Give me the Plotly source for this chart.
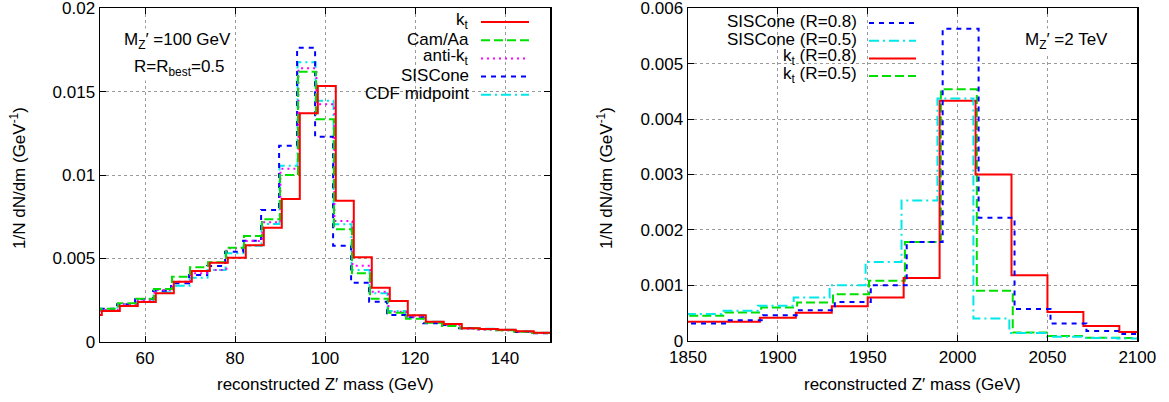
import plotly.graph_objects as go

# ---------------- data ----------------
# Left panel: M_Z' = 100 GeV, 4 GeV bins (left edges)
left_edges = [46.4, 50.4, 54.4, 58.4, 62.4, 66.4, 70.4, 74.4, 78.4, 82.4, 86.4, 90.4, 94.4,
              98.4, 102.4, 106.4, 110.4, 114.4, 118.4, 122.4, 126.4, 130.4, 134.4, 138.4, 142.4, 146.4, 150.4]
kt_100 = [0.0016, 0.00184, 0.00214, 0.00238, 0.0029, 0.0036, 0.00424, 0.00474, 0.00504, 0.00578,
          0.00684, 0.00856, 0.0137, 0.01534, 0.00846, 0.00506, 0.00324, 0.00244, 0.00158, 0.0012,
          0.00106, 0.0008, 0.00076, 0.00072, 0.00062, 0.00054]
camaa_100 = [0.0019, 0.00198, 0.0023, 0.00258, 0.00316, 0.0039, 0.00446, 0.00476, 0.00564, 0.00634,
             0.00734, 0.0100, 0.0162, 0.01334, 0.00674, 0.0041, 0.00258, 0.00174, 0.00138, 0.00114,
             0.00094, 0.0008, 0.00074, 0.00068, 0.0006, 0.00052]
antikt_100 = [0.0018, 0.0019, 0.00226, 0.0025, 0.0031, 0.0036, 0.0041, 0.0043, 0.0056, 0.00604,
              0.00716, 0.01038, 0.0164, 0.01424, 0.00724, 0.00456, 0.0030, 0.0018, 0.0015, 0.00116,
              0.0010, 0.00078, 0.00072, 0.00068, 0.0006, 0.00052]
siscone_100 = [0.0019, 0.00198, 0.00224, 0.00254, 0.00306, 0.0035, 0.0040, 0.00454, 0.0054, 0.00606,
               0.0079, 0.01176, 0.01764, 0.0123, 0.00576, 0.00354, 0.0024, 0.0016, 0.00146, 0.0011,
               0.0010, 0.0008, 0.00076, 0.0007, 0.00058, 0.0005]
cdf_100 = [0.00175, 0.00186, 0.00214, 0.00238, 0.00296, 0.00336, 0.00384, 0.0043, 0.0053, 0.00576,
           0.00706, 0.01056, 0.01676, 0.01446, 0.00704, 0.0043, 0.0029, 0.00184, 0.0016, 0.0012,
           0.00106, 0.00082, 0.00078, 0.00072, 0.00062, 0.00054]

# Right panel: M_Z' = 2 TeV, 20 GeV bins (left edges)
right_edges = [1850, 1870, 1890, 1910, 1930, 1950, 1970, 1990, 2010, 2030, 2050, 2070, 2090, 2110]
sis08_2tev = [0.00031, 0.00037, 0.00046, 0.00055, 0.0007, 0.0010, 0.00178, 0.00563, 0.00222,
              0.00057, 0.00031, 0.000175, 0.00012]
sis05_2tev = [0.00048, 0.00054, 0.00063, 0.00078, 0.0010, 0.00142, 0.00253, 0.00437, 0.0004,
              0.00014, 0.00007, 0.00005, 0.00004]
kt08_2tev = [0.00034, 0.00034, 0.000415, 0.000505, 0.00062, 0.00078, 0.00113, 0.00433, 0.0030,
             0.00118, 0.00052, 0.000265, 0.000155]
kt05_2tev = [0.00045, 0.00051, 0.0006, 0.00069, 0.00084, 0.00108, 0.00178, 0.00454, 0.0009,
             0.00015, 0.000085, 0.000055, 0.00005]

left_xticks = [60, 80, 100, 120, 140]
left_yticks = [0, 0.005, 0.01, 0.015, 0.02]
left_yticktext = ["0", "0.005", "0.01", "0.015", "0.02"]
right_xticks = [1850, 1900, 1950, 2000, 2050, 2100]
right_yticks = [0, 0.001, 0.002, 0.003, 0.004, 0.005, 0.006]
right_yticktext = ["0", "0.001", "0.002", "0.003", "0.004", "0.005", "0.006"]

# ---------------- styling ----------------
W, H = 1169, 402
FONT = "Liberation Sans, Arial, Helvetica, sans-serif"
FS = 17

RED, GREEN, MAG, BLUE, CYAN = "#ff0000", "#00e000", "#ff00ff", "#0000ff", "#00e8e8"
DASH_GREEN = "9px,4px"
DASH_MAG = "2px,4px"
DASH_BLUE = "5px,5px"
DASH_CYAN = "10px,4px,2px,4px"


def px2x(p):
    return p / W


def px2y(p):
    return 1 - p / H


def step(edges, vals, off):
    xs = [e + off for e in edges]
    ys = list(vals) + [vals[-1]]
    return xs, ys


fig = go.Figure()

left_series = [
    ("k<sub>t</sub>", kt_100, RED, "solid", 0.0),
    ("Cam/Aa", camaa_100, GREEN, DASH_GREEN, -0.4),
    ("anti-k<sub>t</sub>", antikt_100, MAG, DASH_MAG, -0.3),
    ("SISCone", siscone_100, BLUE, DASH_BLUE, -0.6),
    ("CDF midpoint", cdf_100, CYAN, DASH_CYAN, -0.5),
]
right_series = [
    ("SISCone (R=0.8)", sis08_2tev, BLUE, DASH_BLUE, 1.7),
    ("SISCone (R=0.5)", sis05_2tev, CYAN, DASH_CYAN, -1.2),
    ("k<sub>t</sub> (R=0.8)", kt08_2tev, RED, "solid", 0.0),
    ("k<sub>t</sub> (R=0.5)", kt05_2tev, GREEN, DASH_GREEN, 0.7),
]

for name, vals, col, dash, off in left_series[::-1]:
    xs, ys = step(left_edges, vals, off)
    fig.add_trace(go.Scatter(x=xs, y=ys, mode="lines", line=dict(color=col, width=2, dash=dash, shape="hv"),
                             name=name, showlegend=False, hoverinfo="skip", xaxis="x", yaxis="y"))
for name, vals, col, dash, off in right_series[::-1]:
    xs, ys = step(right_edges, vals, off)
    fig.add_trace(go.Scatter(x=xs, y=ys, mode="lines", line=dict(color=col, width=2, dash=dash, shape="hv"),
                             name=name, showlegend=False, hoverinfo="skip", xaxis="x2", yaxis="y2"))

axis_common = dict(showline=True, linecolor="black", linewidth=1.5, mirror="ticks",
                   ticks="inside", ticklen=6, tickwidth=1, tickcolor="black",
                   showgrid=True, gridcolor="#9a9a9a", griddash="dot", gridwidth=1,
                   zeroline=False, automargin=False, ticklabeloverflow="allow",
                   tickfont=dict(family=FONT, size=FS, color="black"))

fig.update_layout(
    template="none",
    width=W, height=H, margin=dict(l=0, r=0, t=0, b=0, pad=0),
    paper_bgcolor="white", plot_bgcolor="white",
    font=dict(family=FONT, size=FS, color="black"),
    xaxis=dict(domain=[px2x(100), px2x(550)], range=[50, 150], tickvals=left_xticks, anchor="y", **axis_common),
    yaxis=dict(domain=[px2y(341.7), px2y(8.3)], range=[0, 0.020001], tickvals=left_yticks,
               ticktext=left_yticktext, anchor="x", **axis_common),
    xaxis2=dict(domain=[px2x(688), px2x(1137.3)], range=[1850, 2100], tickvals=right_xticks, anchor="y2", **axis_common),
    yaxis2=dict(domain=[px2y(340.7), px2y(8.3)], range=[0, 0.0060003], tickvals=right_yticks,
                ticktext=right_yticktext, anchor="x2", **axis_common),
)

shapes = []
annotations = []

# opaque legend boxes
shapes.append(dict(type="rect", xref="paper", yref="paper", x0=px2x(352), x1=px2x(538), y0=px2y(103), y1=px2y(12),
                   fillcolor="white", line=dict(width=0), layer="between"))
shapes.append(dict(type="rect", xref="paper", yref="paper", x0=px2x(697), x1=px2x(927), y0=px2y(86), y1=px2y(10),
                   fillcolor="white", line=dict(width=0), layer="between"))

# left legend
for i, (name, vals, col, dash, off) in enumerate(left_series):
    yc = 21 + 18.2 * i
    annotations.append(dict(x=px2x(471), y=px2y(yc), xref="paper", yref="paper", text=name, showarrow=False,
                            xanchor="right", yanchor="middle", font=dict(family=FONT, size=FS, color="black")))
    shapes.append(dict(type="line", xref="paper", yref="paper", x0=px2x(481), x1=px2x(529), y0=px2y(yc + 1),
                       y1=px2y(yc + 1), line=dict(color=col, width=2, dash=dash), layer="above"))
# right legend
for i, (name, vals, col, dash, off) in enumerate(right_series):
    yc = 22 + 17.7 * i
    annotations.append(dict(x=px2x(859), y=px2y(yc), xref="paper", yref="paper", text=name, showarrow=False,
                            xanchor="right", yanchor="middle", font=dict(family=FONT, size=FS, color="black")))
    shapes.append(dict(type="line", xref="paper", yref="paper", x0=px2x(869), x1=px2x(916), y0=px2y(yc + 1),
                       y1=px2y(yc + 1), line=dict(color=col, width=2, dash=dash), layer="above"))

# labels
annotations.append(dict(x=px2x(122), y=px2y(41), xref="paper", yref="paper", text="M<sub>Z</sub>′ =100 GeV",
                        showarrow=False, xanchor="left", yanchor="middle", bgcolor="white",
                        font=dict(family=FONT, size=FS, color="black")))
annotations.append(dict(x=px2x(132), y=px2y(68), xref="paper", yref="paper", text="R=R<sub>best</sub>=0.5",
                        showarrow=False, xanchor="left", yanchor="middle", bgcolor="white",
                        font=dict(family=FONT, size=FS, color="black")))
annotations.append(dict(x=px2x(1023), y=px2y(41), xref="paper", yref="paper", text="M<sub>Z</sub>′ =2 TeV",
                        showarrow=False, xanchor="left", yanchor="middle", bgcolor="white",
                        font=dict(family=FONT, size=FS, color="black")))

# axis titles
for xc in (325, 912):
    annotations.append(dict(x=px2x(xc), y=px2y(384), xref="paper", yref="paper",
                            text="reconstructed Z′ mass (GeV)", showarrow=False, xanchor="center",
                            yanchor="middle", font=dict(family=FONT, size=FS, color="black")))
for xc in (18, 605):
    annotations.append(dict(x=px2x(xc), y=px2y(178), xref="paper", yref="paper",
                            text="1/N dN/dm (GeV<sup>-1</sup>)", showarrow=False, textangle=-90,
                            xanchor="center", yanchor="middle", font=dict(family=FONT, size=FS, color="black")))

fig.update_layout(shapes=shapes, annotations=annotations, hovermode=False)
fig.write_html("out.html", config={"displayModeBar": False, "staticPlot": True},
               post_script="document.body.style.margin='0';document.body.style.overflow='hidden';")
